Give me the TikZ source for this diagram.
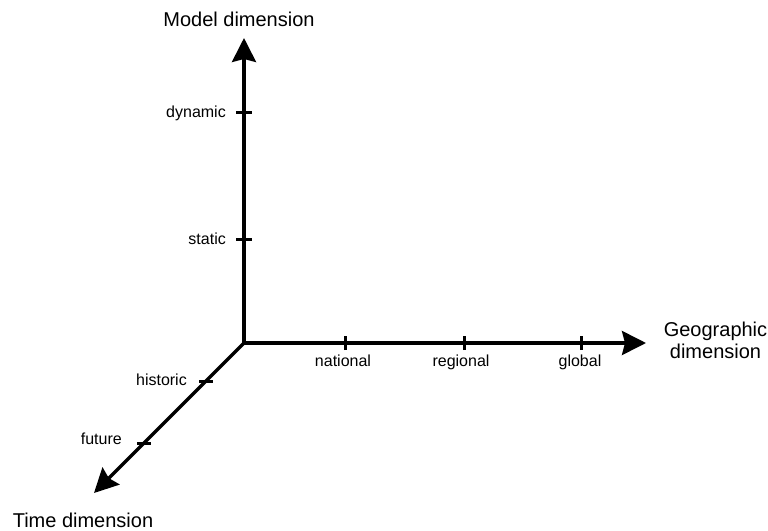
\documentclass[tikz,border=0pt]{standalone}
\usepackage{fontspec}
\setmainfont{Liberation Sans}
\usetikzlibrary{arrows.meta}
\begin{document}
\begin{tikzpicture}[x=1pt,y=-1pt,
  axis/.style={line width=3.3pt,-{Stealth[length=24pt,width=24pt,inset=3pt]}},
  tickmark/.style={line width=3pt},
  small/.style={font=\fontsize{16}{19}\selectfont,inner sep=0pt},
  big/.style={font=\fontsize{20}{22}\selectfont,inner sep=0pt}]
\useasboundingbox (0,0) rectangle (768,530);
% axes
\coordinate (O) at (244,343);
\coordinate (Ytip) at (244,38);
\coordinate (Xtip) at (646,343);
\coordinate (Ztip) at (94,493);
\draw[axis] (O) -- (Ytip);
\draw[axis] (O) -- (Xtip);
\draw[axis] (O) -- (Ztip);
% ticks on vertical axis
\coordinate (tdyn) at (244,112);
\coordinate (tsta) at (244,239);
\draw[tickmark] ([xshift=-8pt]tdyn) -- ([xshift=8pt]tdyn);
\draw[tickmark] ([xshift=-8pt]tsta) -- ([xshift=8pt]tsta);
% ticks on horizontal axis
\coordinate (tnat) at (345,343);
\coordinate (treg) at (464,343);
\coordinate (tglo) at (581,343);
\draw[tickmark] ([yshift=-7pt]tnat) -- ([yshift=7pt]tnat);
\draw[tickmark] ([yshift=-7pt]treg) -- ([yshift=7pt]treg);
\draw[tickmark] ([yshift=-7pt]tglo) -- ([yshift=7pt]tglo);
% ticks on diagonal axis
\coordinate (this) at (206,381);
\coordinate (tfut) at (144,443);
\draw[tickmark] ([xshift=-7pt]this) -- ([xshift=7pt]this);
\draw[tickmark] ([xshift=-7pt]tfut) -- ([xshift=7pt]tfut);
% labels
\node[big,anchor=base] (model) at (239,26.7) {Model dimension};
\node[big,anchor=base] (time) at (83,527) {Time dimension};
\node[big,align=center,anchor=center] (geo) at (715.5,340) {Geographic\\dimension};
\node[small,anchor=base east] (dynamic) at (226,117) {dynamic};
\node[small,anchor=base east] (static) at (226,244) {static};
\node[small,anchor=base] (national) at (343,366) {national};
\node[small,anchor=base] (regional) at (461,366) {regional};
\node[small,anchor=base] (global) at (580,366) {global};
\node[small,anchor=base east] (historic) at (187,385) {historic};
\node[small,anchor=base east] (future) at (122,444) {future};
\end{tikzpicture}
\end{document}
